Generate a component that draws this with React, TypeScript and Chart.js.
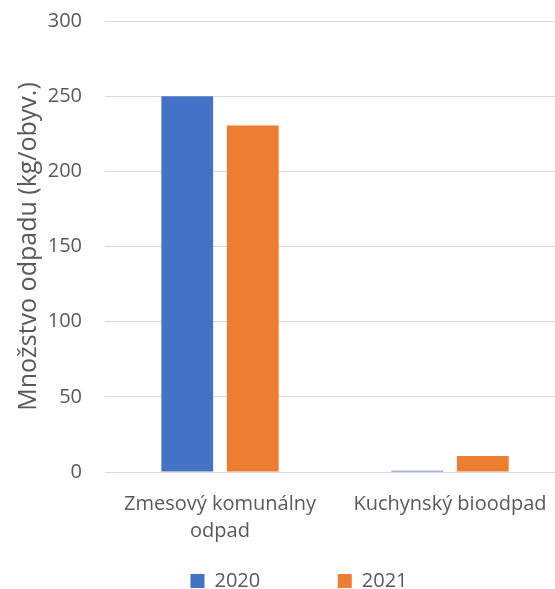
import React, { useEffect, useRef } from 'react';
import { Chart, registerables } from 'chart.js';

Chart.register(...registerables);

const categories: (string | string[])[] = [['Zmesový komunálny', 'odpad'], 'Kuchynský bioodpad'];
const seriesNames = ['2020', '2021'];
const values2020 = [250, 0.9];
const values2021 = [230.5, 10.6];
const yMin = 0;
const yMax = 300;
const yStep = 50;
const yTitle = 'Množstvo odpadu (kg/obyv.)';

const BLUE = '#4472C4';
const ORANGE = '#ED7D31';
const GRID = '#D9D9D9';
const TEXT = '#595959';
const FONT = "'Open Sans', sans-serif";

export default function App() {
  const ref = useRef<HTMLCanvasElement | null>(null);

  useEffect(() => {
    if (!ref.current) return;
    const chart = new Chart(ref.current, {
      type: 'bar',
      data: {
        labels: categories,
        datasets: [
          { label: seriesNames[0], data: values2020, backgroundColor: BLUE, yAxisID: 'y' },
          { label: seriesNames[1], data: values2021, backgroundColor: ORANGE, yAxisID: 'y' },
        ],
      },
      options: {
        responsive: false,
        animation: false,
        devicePixelRatio: 1,
        layout: { padding: { top: 21, left: 0, right: 0, bottom: 0 } },
        datasets: {
          bar: { categoryPercentage: 0.57, barPercentage: 0.79 },
        },
        scales: {
          x: {
            grid: { display: false, drawTicks: false },
            border: { display: true, color: GRID, width: 1 },
            ticks: {
              color: TEXT,
              font: { family: FONT, size: 20, lineHeight: 1.35 },
              padding: 19,
              maxRotation: 0,
              autoSkip: false,
            },
            afterFit: (scale: any) => {
              scale.height = 89;
              scale.paddingLeft = 0;
              scale.paddingRight = 0;
            },
          },
          y: {
            min: yMin,
            max: yMax,
            grid: { color: GRID, drawTicks: false, lineWidth: 1 },
            border: { display: false },
            ticks: {
              stepSize: yStep,
              color: TEXT,
              font: { family: FONT, size: 20 },
              padding: 23,
            },
            title: {
              display: true,
              text: yTitle,
              color: TEXT,
              font: { family: FONT, size: 25, weight: 'normal' },
              padding: { top: 14, bottom: 0 },
            },
            afterFit: (scale: any) => {
              scale.width = 105;
              scale.paddingTop = 0;
              scale.paddingBottom = 0;
            },
          },
          yRight: {
            position: 'right',
            display: true,
            grid: { display: false, drawTicks: false },
            border: { display: false },
            ticks: { display: false },
            afterFit: (scale: any) => {
              scale.width = 33;
              scale.paddingTop = 0;
              scale.paddingBottom = 0;
            },
          },
        },
        plugins: {
          tooltip: { enabled: false },
          legend: {
            position: 'bottom',
            labels: {
              color: TEXT,
              font: { family: FONT, size: 20 },
              boxWidth: 14,
              boxHeight: 14,
              padding: 10,
              generateLabels: (c: any) => {
                const items = Chart.defaults.plugins.legend.labels.generateLabels(c);
                return items.map((it: any, i: number) =>
                  i === 0 ? { ...it, text: it.text + ' '.repeat(13), lineWidth: 0 } : { ...it, lineWidth: 0 }
                );
              },
            },
          },
        },
      } as any,
    });
    return () => chart.destroy();
  }, []);

  return (
    <div style={{ position: 'absolute', left: 0, top: 0, width: 555, height: 589, overflow: 'hidden', background: '#fff' }}>
      <canvas ref={ref} width={598} height={601} style={{ width: 598, height: 601, display: 'block' }} />
    </div>
  );
}
